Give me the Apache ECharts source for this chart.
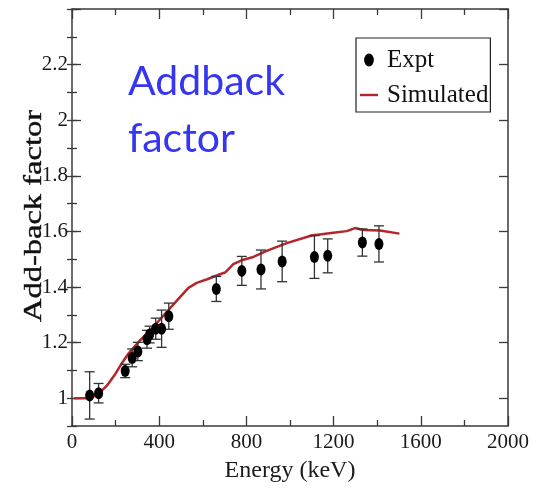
<!DOCTYPE html>
<html><head><meta charset="utf-8">
<script src="https://cdn.jsdelivr.net/npm/echarts@6/dist/echarts.min.js"></script>
<style>html,body{margin:0;padding:0;background:#fff}#c{width:548px;height:488px}</style>
</head><body><div id="c"></div>
<script>
// Experimental add-back factors (energy in keV)
const exptEnergy = [81, 122, 244, 276, 302, 344, 356, 384, 411, 444, 662, 779, 867, 964, 1112, 1173, 1332, 1408];
const exptFactor = [1.01, 1.018, 1.098, 1.145, 1.168, 1.212, 1.229, 1.25, 1.25, 1.295, 1.393, 1.458, 1.463, 1.492, 1.508, 1.512, 1.56, 1.555];
const exptError  = [0.085, 0.035, 0.024, 0.032, 0.033, 0.032, 0.03, 0.038, 0.067, 0.047, 0.045, 0.052, 0.07, 0.073, 0.077, 0.061, 0.049, 0.065];
// Simulated curve
const simEnergy = [10, 60, 90, 113, 140, 160, 197, 228, 258, 312, 373, 434, 480, 534, 572, 620, 679, 702, 740, 778, 832, 893, 985, 1099, 1199, 1260, 1298, 1336, 1413, 1502];
const simFactor = [1.0, 1.0, 1.003, 1.012, 1.03, 1.045, 1.085, 1.125, 1.16, 1.208, 1.256, 1.31, 1.35, 1.397, 1.415, 1.428, 1.446, 1.452, 1.482, 1.496, 1.508, 1.53, 1.558, 1.585, 1.595, 1.601, 1.612, 1.605, 1.603, 1.592];
// Axis ticks
const yLabelValues = [1, 1.2, 1.4, 1.6, 1.8, 2, 2.2];
const yMajorTicks = [1, 1.2, 1.4, 1.6, 1.8, 2, 2.2, 2.4];
const seriesNames = ['Expt', 'Simulated'];
const xTitle = 'Energy (keV)';
const yTitle = 'Add-back factor';
const noteLines = ['Addback', 'factor'];

const axisCol = '#3a3a3a';
const serif = 'Liberation Serif';
const chart = echarts.init(document.getElementById('c'), null, {renderer: 'canvas'});

function xAx(pos, labels) {
  return {
    type: 'value', position: pos, min: 0, max: 2000, interval: 400,
    axisLine: {show: true, onZero: false, lineStyle: {color: axisCol, width: 1.5}},
    axisTick: {show: true, inside: true, length: 10, lineStyle: {color: axisCol, width: 1.3}},
    minorTick: {show: true, splitNumber: 2, length: 6, lineStyle: {color: axisCol, width: 1.3}},
    axisLabel: {show: labels, margin: 6, fontFamily: serif, fontSize: 21, color: '#1a1a1a',
                formatter: function (v) { return String(v); }},
    splitLine: {show: false}, minorSplitLine: {show: false},
    name: labels ? xTitle : '', nameLocation: 'middle', nameGap: 33,
    nameTextStyle: {fontFamily: serif, fontSize: 24, color: '#1a1a1a'}
  };
}
function yMajor(pos, labels) {
  return {
    type: 'value', position: pos, min: 0.9, max: 2.4,
    axisLine: {show: true, onZero: false, lineStyle: {color: axisCol, width: 1.5}},
    axisTick: {show: true, inside: true, length: 9, customValues: yMajorTicks, lineStyle: {color: axisCol, width: 1.3}},
    axisLabel: {show: labels, customValues: yLabelValues, margin: 4, fontFamily: serif, fontSize: 21, color: '#1a1a1a',
                formatter: function (v) { return String(v); }},
    splitLine: {show: false}
  };
}
function yMinor(pos) {
  return {
    type: 'value', position: pos, min: 0.9, max: 2.4, interval: 0.1,
    axisLine: {show: false},
    axisTick: {show: true, inside: true, length: 5, lineStyle: {color: axisCol, width: 1.3}},
    axisLabel: {show: false}, splitLine: {show: false}
  };
}

const option = {
  animation: false,
  backgroundColor: '#fff',
  grid: {left: 72, top: 9, width: 436, height: 418.5, containLabel: false},
  xAxis: [xAx('bottom', true), xAx('top', false)],
  yAxis: [yMajor('left', true), yMinor('left'), yMajor('right', false), yMinor('right')],
  legend: {
    orient: 'vertical', left: 356, top: 38,
    padding: [7, 2, 2, 4], itemWidth: 18, itemHeight: 13, itemGap: 5,
    borderColor: '#222', borderWidth: 1.2,
    textStyle: {fontFamily: serif, fontSize: 25, color: '#111', lineHeight: 30, padding: [0, 0, 0, 4]},
    data: [
      {name: seriesNames[0], icon: 'path://M0,6A4.5,6,0,1,1,9,6A4.5,6,0,1,1,0,6Z', itemStyle: {color: '#000', opacity: 1}},
      {name: seriesNames[1], icon: 'path://M0,0H18V2.4H0Z', itemStyle: {color: '#b3262b'}}
    ]
  },
  graphic: [
    {type: 'text', x: 34.5, y: 216, rotation: Math.PI / 2, scaleX: 1.25,
     style: {text: yTitle, fontFamily: serif, fontWeight: 'normal', fontSize: 26, fill: '#111', align: 'center', verticalAlign: 'middle',
             stroke: '#111', lineWidth: 0.4}},
    {type: 'text', x: 128, y: 82, style: {text: noteLines[0], fontFamily: 'Lato', fontSize: 41, fill: '#3535f2', align: 'left', verticalAlign: 'middle'}},
    {type: 'text', x: 128, y: 139, style: {text: noteLines[1], fontFamily: 'Lato', fontSize: 41, fill: '#3535f2', align: 'left', verticalAlign: 'middle'}}
  ],
  series: [
    {
      type: 'line', name: seriesNames[1], xAxisIndex: 0, yAxisIndex: 0,
      data: simEnergy.map((e, i) => [e, simFactor[i]]),
      symbol: 'none', showSymbol: false, smooth: false, z: 2,
      lineStyle: {color: '#b3262b', width: 2.5}, itemStyle: {color: '#b3262b'}
    },
    {
      type: 'custom', xAxisIndex: 0, yAxisIndex: 0, z: 3, silent: true,
      data: exptEnergy.map((e, i) => [e, exptFactor[i], exptError[i]]),
      encode: {x: 0, y: 1},
      renderItem: function (params, api) {
        const x = api.value(0), y = api.value(1), err = api.value(2);
        const t = api.coord([x, y + err]), b = api.coord([x, y - err]);
        const hw = 5, st = {stroke: '#333', lineWidth: 1.3};
        return {type: 'group', children: [
          {type: 'line', shape: {x1: t[0], y1: t[1], x2: b[0], y2: b[1]}, style: st},
          {type: 'line', shape: {x1: t[0] - hw, y1: t[1], x2: t[0] + hw, y2: t[1]}, style: st},
          {type: 'line', shape: {x1: b[0] - hw, y1: b[1], x2: b[0] + hw, y2: b[1]}, style: st}
        ]};
      }
    },
    {
      type: 'scatter', name: seriesNames[0], xAxisIndex: 0, yAxisIndex: 0, z: 4,
      data: exptEnergy.map((e, i) => [e, exptFactor[i]]),
      symbol: 'circle', symbolSize: [9, 12],
      itemStyle: {color: '#000', opacity: 1}
    }
  ]
};
chart.setOption(option);
</script>
</body></html>
